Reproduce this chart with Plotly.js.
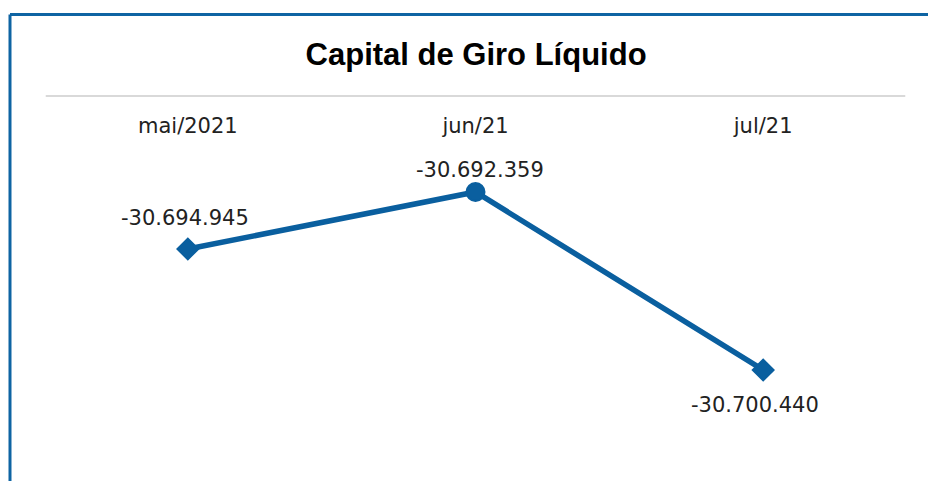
<!DOCTYPE html>
<html>
<head>
<meta charset="utf-8">
<script src="https://cdn.plot.ly/plotly-3.0.1.min.js"></script>
<style>html,body{margin:0;padding:0;background:#fff;}#chart{width:928px;height:481px;}</style>
</head>
<body>
<div id="chart"></div>
<script>
var categories = ["mai/2021", "jun/21", "jul/21"];
var values = [-30694945, -30692359, -30700440];
var markerSymbols = ["diamond", "circle", "diamond"];
var labelShifts = [31, 22, -35];
var labelXShifts = [-3, 4, -8];

function fmtBR(v) {
  var s = Math.abs(Math.round(v)).toString().replace(/\B(?=(\d{3})+(?!\d))/g, ".");
  return (v < 0 ? "-" : "") + s;
}

var blue = "#0a5f9f";
var labelFont = {family: "DejaVu Sans, sans-serif", size: 21, color: "#222222"};

var trace = {
  type: "scatter",
  mode: "lines+markers",
  x: categories,
  y: values,
  line: {color: blue, width: 5.5},
  marker: {color: blue, size: [16, 18, 16], symbol: markerSymbols, opacity: 1,
           line: {color: blue, width: 2}},
  hoverinfo: "none"
};

var annotations = categories.map(function (c, i) {
  return {
    x: c, y: values[i], xref: "x", yref: "y",
    text: fmtBR(values[i]), showarrow: false,
    yshift: labelShifts[i], xshift: labelXShifts[i], font: labelFont
  };
});

var layout = {
  width: 928, height: 481,
  paper_bgcolor: "#ffffff", plot_bgcolor: "#ffffff",
  margin: {l: 44, r: 21, t: 142, b: 30},
  title: {
    text: "<b>Capital de Giro Líquido</b>",
    font: {family: "Liberation Sans, Arial, sans-serif", size: 31, color: "#000000"},
    x: 0.513, xanchor: "center", y: 0.887, yanchor: "middle"
  },
  showlegend: false,
  xaxis: {
    type: "category", side: "top", range: [-0.5, 2.5],
    showgrid: false, zeroline: false, showline: false, ticks: "",
    tickfont: labelFont, ticklabelstandoff: 4, fixedrange: true
  },
  yaxis: {
    range: [-30704117, -30690089], visible: false, fixedrange: true
  },
  annotations: annotations,
  shapes: [
    {type: "line", xref: "paper", yref: "paper", layer: "below",
     x0: 0.002, x1: 0.998, y0: 1.1492, y1: 1.1492, line: {color: "#d9d9d9", width: 2}},
    {type: "line", xref: "paper", yref: "paper",
     x0: -0.0394, x1: 1.03, y0: 1.4125, y1: 1.4125, line: {color: "#0e64a3", width: 3}},
    {type: "line", xref: "paper", yref: "paper",
     x0: -0.0394, x1: -0.0394, y0: 1.4125, y1: -0.2, line: {color: "#0e64a3", width: 3}}
  ]
};

Plotly.newPlot("chart", [trace], layout, {displayModeBar: false, staticPlot: true});
</script>
</body>
</html>
